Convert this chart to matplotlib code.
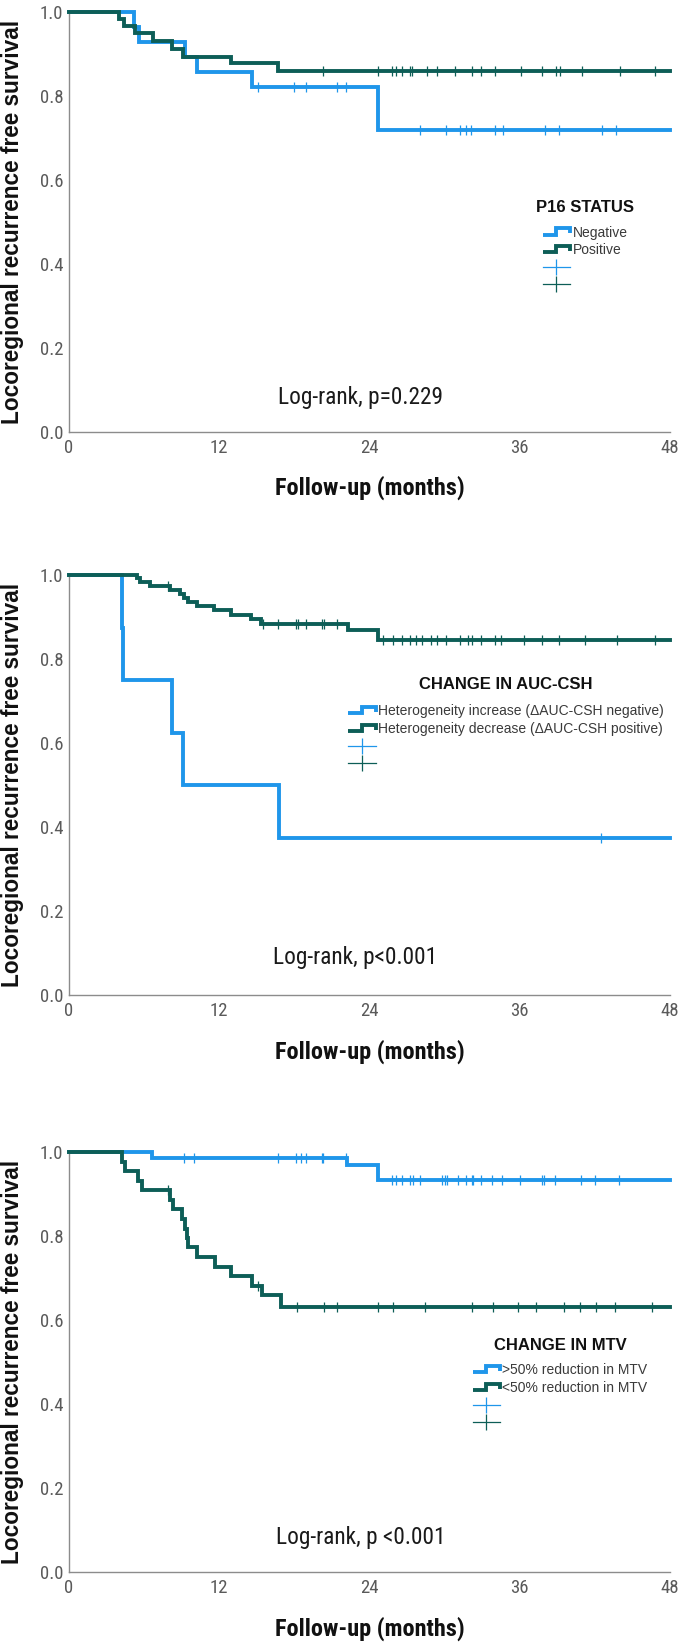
import matplotlib
matplotlib.use("Agg")
import matplotlib.pyplot as plt
import numpy as np
from matplotlib.legend_handler import HandlerBase
from matplotlib.lines import Line2D
from matplotlib import font_manager

_avail = {f.name for f in font_manager.fontManager.ttflist}
SANS = "Liberation Sans"
NARROW = None
for cand in ("Liberation Sans Narrow", "Arial Narrow", "Roboto Condensed"):
    if cand in _avail:
        NARROW = cand
        break
TICKFONT = NARROW if NARROW else SANS
TICKSIZE = 13.5 if NARROW else 12.5

BLUE = "#1F96EA"
GREEN = "#0D5E57"
END = 48  # follow-up horizon (months)

# ---------------- Panel 1: P16 status ----------------
p16_neg_times = [5.2, 5.6, 9.3, 10.2, 14.6, 24.7]
p16_neg_surv = [0.964, 0.929, 0.893, 0.857, 0.821, 0.718]
p16_neg_cens = [15.1, 18.0, 18.9, 21.4, 22.1, 28.0, 30.1, 31.2, 31.7, 32.1, 34.0,
                34.7, 38.0, 39.1, 42.6, 43.7]
p16_pos_times = [4.0, 4.4, 5.3, 6.7, 8.2, 9.1, 12.9, 16.7]
p16_pos_surv = [0.984, 0.966, 0.949, 0.930, 0.911, 0.893, 0.878, 0.859]
p16_pos_cens = [20.3, 24.7, 25.8, 26.1, 26.6, 27.2, 27.4, 28.6, 29.4, 30.8, 32.2,
                32.9, 34.0, 36.1, 37.8, 38.9, 39.2, 41.0, 44.0, 46.8]

# ---------------- Panel 2: change in AUC-CSH ----------------
auc_inc_times = [4.2, 4.35, 8.2, 9.1, 16.8]
auc_inc_surv = [0.875, 0.750, 0.625, 0.500, 0.375]
auc_inc_cens = [42.5]
auc_dec_times = [5.4, 5.7, 6.5, 8.1, 8.9, 9.2, 9.5, 10.2, 11.6, 12.9, 14.5, 15.3, 22.3, 24.7]
auc_dec_surv = [0.993, 0.984, 0.974, 0.964, 0.955, 0.946, 0.937, 0.927, 0.916, 0.905,
                0.895, 0.884, 0.870, 0.846]
auc_dec_cens = [7.9, 15.5, 16.7, 18.1, 18.3, 18.9, 20.2, 20.4, 21.4, 25.1, 25.9, 26.6,
                27.2, 27.7, 28.2, 28.9, 29.4, 30.1, 31.2, 31.9, 32.2, 32.9, 34.0, 34.5,
                36.3, 37.8, 39.1, 41.2, 43.8, 46.8]

# ---------------- Panel 3: change in MTV ----------------
mtv_gt50_times = [6.6, 22.2, 24.7]
mtv_gt50_surv = [0.986, 0.969, 0.933]
mtv_gt50_cens = [9.2, 10.0, 16.7, 18.1, 18.5, 18.9, 20.2, 20.3, 22.1, 25.8, 26.1, 26.6,
                 27.2, 27.5, 28.0, 29.8, 30.0, 30.2, 31.1, 31.7, 32.2, 32.3, 32.9, 33.8,
                 34.6, 36.0, 37.8, 37.9, 38.8, 40.9, 42.0, 43.9]
mtv_lt50_times = [4.2, 4.5, 5.5, 5.8, 8.1, 8.3, 9.0, 9.3, 9.4, 9.5, 10.2, 11.7, 12.9,
                  14.6, 15.4, 16.9]
mtv_lt50_surv = [0.977, 0.955, 0.932, 0.909, 0.886, 0.864, 0.841, 0.818, 0.795, 0.773,
                 0.750, 0.727, 0.705, 0.682, 0.659, 0.632]
mtv_lt50_cens = [7.9, 15.1, 18.2, 20.4, 21.4, 24.7, 25.9, 28.4, 32.2, 33.9, 35.9, 37.3,
                 39.5, 40.8, 42.1, 43.6, 46.6]

x_ticks = [0, 12, 24, 36, 48]
y_ticks = [0.0, 0.2, 0.4, 0.6, 0.8, 1.0]

LW = 2.8


class StepHandler(HandlerBase):
    def create_artists(self, legend, orig_handle, xdescent, ydescent, width, height,
                       fontsize, trans):
        x0, y0 = -xdescent, -ydescent
        xs = [x0, x0 + 0.5 * width, x0 + 0.5 * width, x0 + width, x0 + width]
        ys = [y0 + 0.2 * height, y0 + 0.2 * height, y0 + 0.85 * height,
              y0 + 0.85 * height, y0 + 0.35 * height]
        ln = Line2D(xs, ys, color=orig_handle.get_color(),
                    lw=orig_handle.get_linewidth(), solid_joinstyle="miter",
                    solid_capstyle="butt")
        ln.set_transform(trans)
        return [ln]


def surv_at(times, surv, t):
    steps_t = np.r_[0.0, times]
    steps_s = np.r_[1.0, surv]
    idx = np.searchsorted(steps_t, t, side="right") - 1
    return steps_s[idx]


def draw_km(ax, times, surv, cens, color, z):
    x = np.r_[0.0, times, END]
    y = np.r_[1.0, surv, surv[-1]]
    ax.step(x, y, where="post", color=color, lw=LW, solid_joinstyle="miter",
            zorder=z, clip_on=False)
    c = np.asarray(cens)
    ax.plot(c, surv_at(times, surv, c), ls="none", marker="|", ms=6.5, mew=0.9,
            color=color, zorder=z + 0.5, clip_on=False)


def style_axes(ax):
    ax.set_xlim(0, END)
    ax.set_ylim(0, 1.0)
    ax.set_xticks(x_ticks)
    ax.set_yticks(y_ticks)
    ax.set_yticklabels([f"{v:.1f}" for v in y_ticks])
    for s in ("top", "right"):
        ax.spines[s].set_visible(False)
    for s in ("left", "bottom"):
        ax.spines[s].set_color("#8c8c8c")
        ax.spines[s].set_linewidth(1.0)
    ax.tick_params(axis="both", length=0, labelsize=TICKSIZE, labelcolor="#5a5a5a")
    ax.tick_params(axis="y", pad=4)
    ax.tick_params(axis="x", pad=5)
    for lab in ax.get_xticklabels() + ax.get_yticklabels():
        lab.set_family(TICKFONT)
    ax.set_ylabel("Locoregional recurrence free survival", fontsize=16,
                  fontweight="bold", family=SANS, color="#111111")
    ax.yaxis.set_label_coords(-0.075, 0.5)
    ax.set_xlabel("Follow-up (months)", fontsize=15, fontweight="bold",
                  family=NARROW if NARROW else SANS, color="#111111")
    ax.xaxis.set_label_coords(0.5, -0.105)


def add_legend(ax, title, labels, title_xy, leg_xy):
    h1 = Line2D([], [], color=BLUE, lw=LW)
    h2 = Line2D([], [], color=GREEN, lw=LW)
    h3 = Line2D([], [], color=BLUE, lw=0.9, marker="|", ms=11, mew=0.9)
    h4 = Line2D([], [], color=GREEN, lw=0.9, marker="|", ms=11, mew=0.9)
    leg = ax.legend([h1, h2, h3, h4], [labels[0], labels[1], " ", " "],
                    handler_map={h1: StepHandler(), h2: StepHandler()},
                    loc="upper center", bbox_to_anchor=leg_xy, frameon=False,
                    borderaxespad=0, borderpad=0, handlelength=2.0,
                    handletextpad=0.15, labelspacing=0.25, numpoints=1,
                    prop={"family": SANS, "size": 10})
    for t in leg.get_texts():
        t.set_color("#3a3a3a")
    ax.text(title_xy[0], title_xy[1], title, transform=ax.transAxes, ha="center",
            va="center", fontsize=12, fontweight="bold", family=SANS, color="#111111")


fig = plt.figure(figsize=(6.85, 16.43), dpi=100)
fig.patch.set_facecolor("white")
L, W, H = 0.1007, 0.8774, 0.2556
ax1 = fig.add_axes([L, 0.7371, W, H])
ax2 = fig.add_axes([L, 0.3944, W, H])
ax3 = fig.add_axes([L, 0.0432, W, H])

# Panel 1
draw_km(ax1, p16_neg_times, p16_neg_surv, p16_neg_cens, BLUE, 2)
draw_km(ax1, p16_pos_times, p16_pos_surv, p16_pos_cens, GREEN, 3)
style_axes(ax1)
add_legend(ax1, "P16 STATUS", ["Negative", "Positive"], (0.8586, 0.5333), (0.8586, 0.4912))
t1 = ax1.text(0.3478, 0.083, "Log-rank, p=0.229", transform=ax1.transAxes, ha="left",
              va="center", fontsize=14, family=NARROW if NARROW else SANS,
              color="#1a1a1a")

# Panel 2
draw_km(ax2, auc_inc_times, auc_inc_surv, auc_inc_cens, BLUE, 2)
draw_km(ax2, auc_dec_times, auc_dec_surv, auc_dec_cens, GREEN, 3)
style_axes(ax2)
add_legend(ax2, "CHANGE IN AUC-CSH",
           ["Heterogeneity increase (\u0394AUC-CSH negative)",
            "Heterogeneity decrease (\u0394AUC-CSH positive)"],
           (0.7271, 0.7405), (0.7271, 0.6919))
t2 = ax2.text(0.34, 0.09, "Log-rank, p<0.001", transform=ax2.transAxes, ha="left",
              va="center", fontsize=14, family=NARROW if NARROW else SANS,
              color="#1a1a1a")

# Panel 3
draw_km(ax3, mtv_gt50_times, mtv_gt50_surv, mtv_gt50_cens, BLUE, 2)
draw_km(ax3, mtv_lt50_times, mtv_lt50_surv, mtv_lt50_cens, GREEN, 3)
style_axes(ax3)
add_legend(ax3, "CHANGE IN MTV",
           [">50% reduction in MTV", "<50% reduction in MTV"],
           (0.817, 0.5405), (0.817, 0.4967))
t3 = ax3.text(0.3444, 0.083, "Log-rank, p <0.001", transform=ax3.transAxes, ha="left",
              va="center", fontsize=14, family=NARROW if NARROW else SANS,
              color="#1a1a1a")

# fit text sizes to the widths measured on the reference
fig.canvas.draw()
r = fig.canvas.get_renderer()


def fit(artist, target_px):
    w = artist.get_window_extent(r).width
    artist.set_fontsize(artist.get_fontsize() * target_px / w)


lr_scale = 166.0 / t1.get_window_extent(r).width
for t in (t1, t2, t3):
    t.set_fontsize(t.get_fontsize() * lr_scale)
for ax in (ax1, ax2, ax3):
    yl = ax.yaxis.label
    yl.set_fontsize(yl.get_fontsize() * 405.0 / yl.get_window_extent(r).height)
    fit(ax.xaxis.label, 190.0)

fig.savefig("out.png", dpi=100, facecolor="white")
